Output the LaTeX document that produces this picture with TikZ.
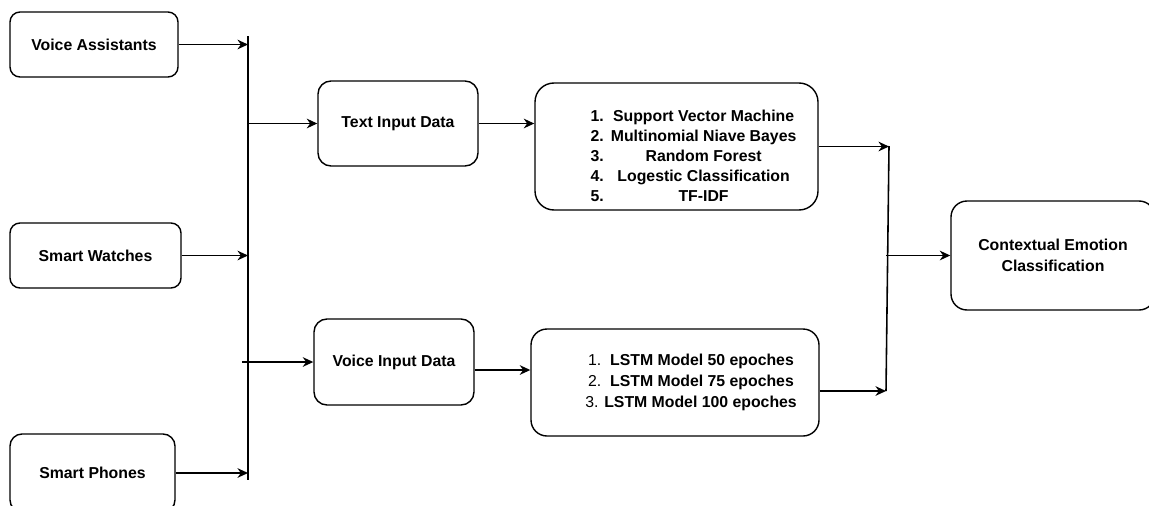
\documentclass[tikz,border=0pt]{standalone}
\usepackage{fontspec}
\setmainfont{Liberation Sans}
\usetikzlibrary{arrows.meta}

\begin{document}
\begin{tikzpicture}[
    box/.style={draw, rounded corners=#1, line width=0.8pt, fill=white, inner sep=0pt,
                align=center, font=\bfseries\fontsize{9}{11.6}\selectfont},
    box/.default=0.2cm,
    listtext/.style={inner sep=0pt, align=center, font=\bfseries\fontsize{9}{11.3}\selectfont},
    flow/.style={-{Stealth[length=6pt,width=5.5pt]}, line width=0.8pt},
    bus/.style={line width=0.9pt}
]
    \useasboundingbox (0,0) rectangle (22.98,-10.10);

    % Sources on the left:
    \node [box, minimum width=3.36cm, minimum height=1.30cm] (va) at (1.88,-0.89) {Voice Assistants};
    \node [box, minimum width=3.42cm, minimum height=1.30cm] (sw) at (1.91,-5.11) {Smart Watches};
    \node [box=0.24cm, minimum width=3.30cm, minimum height=1.56cm] (sp) at (1.85,-9.46) {Smart Phones};

    % Input data:
    \node [box=0.26cm, minimum width=3.20cm, minimum height=1.70cm] (tid) at (7.96,-2.47) {Text Input Data};
    \node [box=0.26cm, minimum width=3.20cm, minimum height=1.72cm] (vid) at (7.88,-7.24) {Voice Input Data};

    % Models:
    % The boxes are drawn empty, the lists are placed a bit off centre as in the original
    \node [box=0.38cm, minimum width=5.66cm, minimum height=2.54cm] (svm) at (13.53,-2.93) {};
    \node [listtext] (svmlist) at ([xshift=0.34cm,yshift=-0.22cm]svm.center) {%
        \begin{tabular}{@{}l@{\hspace{4pt}}c@{}}
        1. & Support Vector Machine\\
        2. & Multinomial Niave Bayes\\
        3. & Random Forest\\
        4. & Logestic Classification\\
        5. & TF-IDF
        \end{tabular}};
    \node [box=0.32cm, minimum width=5.76cm, minimum height=2.14cm] (lstm) at (13.50,-7.65) {};
    \node [listtext, font=\bfseries\fontsize{9}{11.9}\selectfont] (lstmlist) at ([xshift=0.32cm]lstm.center) {%
        {\mdseries 1.}\ \ LSTM Model 50 epoches\\
        {\mdseries 2.}\ \ LSTM Model 75 epoches\\
        {\mdseries 3.} LSTM Model 100 epoches};

    % Result:
    \node [box=0.32cm, minimum width=4.08cm, minimum height=2.18cm] (ctx) at (21.06,-5.11) {Contextual Emotion\\Classification};

    % Collecting lines:
    \coordinate (inT)  at (4.96,-0.72);
    \coordinate (inB)  at (4.96,-9.60);
    \coordinate (outT) at (17.78,-2.92);
    \coordinate (outB) at (17.72,-7.82);
    \draw [bus] (inT) -- (inB);
    \draw [bus] (outT) -- (outB);

    % Connectors:
    \draw [flow] (va.east) -- (va.east -| inT);
    \draw [flow] (sw.east) -- (sw.east -| inT);
    \draw [flow] (sp.east) -- (sp.east -| inT);
    \draw [flow] (tid.west -| inT) -- (tid.west);
    \coordinate (vidin) at (4.84,-7.24);
    \draw [flow] (vidin) -- (vid.west);
    \draw [flow] (tid.east) -- (tid.east -| svm.west);
    \coordinate (vidout) at ([yshift=-0.16cm]vid.east);
    \draw [flow] (vidout) -- (vidout -| lstm.west);
    \draw [flow] (svm.east) -- (svm.east -| outT);
    \coordinate (lstmout) at ([yshift=-0.17cm]lstm.east);
    \draw [flow] (lstmout) -- (lstmout -| outB);
    \draw [flow] (ctx.west -| outB) -- (ctx.west);
\end{tikzpicture}
\end{document}
